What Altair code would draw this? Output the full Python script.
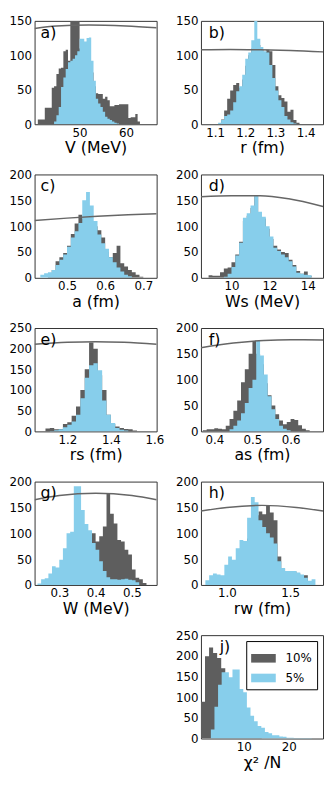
import altair as alt
import pandas as pd

DARK = "#5e5e5e"
BLUE = "#87ceeb"
CURVE = "#666666"
FONT = "DejaVu Sans"
W, H = 124, 105

# ---------------- panel a) V (MeV)
a_dark_start, a_dark_width = 41.0, 0.5
a_dark = [7, 7, 7, 24, 24, 24, 53, 55, 73, 81, 82, 106, 108, 92, 165, 175, 170, 168, 110, 100, 95, 90,
          85, 75, 55, 45, 44, 44, 37, 40, 35, 26, 26, 28, 28, 29, 29, 29, 29, 9, 10, 10, 15, 4]
a_blue_start, a_blue_width = 44.5, 0.5
a_blue = [4, 13, 25, 54, 68, 80, 90, 92, 95, 100, 106, 124, 124, 120, 125, 126, 92, 63, 37, 30, 25, 18,
          11, 8, 6, 4, 2, 1]
a_curve_x = [40.3, 45, 52, 60, 66.6]
a_curve_y = [139, 142.5, 144, 142.5, 140]

# ---------------- panel b) r (fm)
b_dark_start, b_dark_width = 1.12, 0.01
b_dark = [7, 20, 37, 49, 57, 60, 53, 65, 85, 100, 110, 120, 115, 108, 105, 108, 106, 86, 55, 42, 38, 33,
          18, 21, 6, 2]
b_blue_start, b_blue_width = 1.11, 0.01
b_blue = [2, 6, 12, 14, 20, 32, 48, 55, 72, 95, 104, 122, 160, 124, 112, 106, 104, 86, 67, 49, 35, 25,
          12, 7, 3, 1]
b_curve_x = [1.053, 1.15, 1.25, 1.35, 1.458]
b_curve_y = [108, 108.5, 108, 107, 105]

# ---------------- panel c) a (fm)
c_dark_start, c_dark_width = 0.45, 0.01
c_dark = [8, 15, 32, 40, 48, 62, 85, 105, 122, 115, 105, 100, 100, 92, 78, 50, 40, 48, 62, 28, 22, 15,
          11, 6, 2]
c_blue_start, c_blue_width = 0.43, 0.01
c_blue = [6, 9, 11, 15, 25, 35, 45, 60, 78, 90, 106, 150, 166, 140, 110, 84, 67, 56, 40, 30, 20, 12, 6, 3]
c_curve_x = [0.415, 0.5, 0.58, 0.66, 0.735]
c_curve_y = [111, 115.5, 119, 122, 124]

# ---------------- panel d) Ws (MeV)
d_dark_start, d_dark_width = 8.8, 0.2
d_dark = [5, 4, 4, 11, 18, 20, 30, 45, 70, 110, 120, 135, 158, 125, 115, 95, 75, 62, 55, 50, 48, 35,
          25, 13, 8, 12, 4]
d_blue_start, d_blue_width = 9.6, 0.2
d_blue = [2, 8, 21, 43, 68, 116, 125, 140, 160, 128, 118, 100, 80, 58, 52, 45, 40, 32, 22, 10, 8, 6, 5]
d_curve_x = [8.4, 10, 11.5, 13, 14.8]
d_curve_y = [157, 159, 159, 153, 138]

# ---------------- panel e) rs (fm)
e_dark_start, e_dark_width = 1.10, 0.02
e_dark = [7, 8, 5, 6, 18, 22, 38, 60, 100, 150, 215, 200, 136, 100, 40, 18, 12, 8, 6, 5, 2]
e_blue_start, e_blue_width = 1.12, 0.02
e_blue = [1, 3, 5, 10, 16, 24, 40, 80, 130, 160, 165, 148, 75, 40, 20, 8, 4, 2]
e_curve_x = [1.05, 1.2, 1.33, 1.46, 1.61]
e_curve_y = [211, 215.5, 217, 215.5, 211]

# ---------------- panel f) as (fm)
f_dark_start, f_dark_width = 0.37, 0.01
f_dark = [2, 4, 4, 6, 5, 4, 11, 24, 40, 60, 95, 120, 150, 175, 150, 130, 93, 70, 50, 33, 21, 14, 18,
          24, 22, 12, 5, 2]
f_blue_start, f_blue_width = 0.44, 0.01
f_blue = [4, 11, 21, 35, 55, 84, 100, 175, 147, 110, 68, 43, 24, 11, 5, 2]
f_curve_x = [0.365, 0.45, 0.53, 0.6, 0.685]
f_curve_y = [162, 171, 176, 177.5, 177]

# ---------------- panel g) W (MeV)
g_dark_start, g_dark_width = 0.30, 0.01
g_dark = [5, 10, 20, 30, 45, 55, 60, 70, 80, 100, 84, 94, 113, 176, 138, 119, 87, 84, 68, 59, 30, 14,
          11, 4]
g_blue_start, g_blue_width = 0.24, 0.01
g_blue = [3, 11, 13, 22, 36, 34, 49, 71, 100, 103, 191, 191, 145, 118, 106, 81, 68, 46, 27, 15, 11, 11,
          10, 11, 12, 10, 9, 5]
g_curve_x = [0.232, 0.3, 0.4, 0.5, 0.568]
g_curve_y = [165, 173, 177.5, 173, 165]

# ---------------- panel h) rw (fm)
h_dark_start, h_dark_width = 0.95, 0.03
h_dark = [5, 10, 20, 30, 40, 60, 65, 90, 110, 135, 142, 137, 154, 140, 125, 55, 32, 25, 25, 26, 22, 17,
          19, 5]
h_blue_start, h_blue_width = 0.83, 0.03
h_blue = [9, 19, 22, 20, 19, 39, 55, 49, 71, 87, 85, 130, 170, 160, 125, 112, 100, 92, 80, 46, 33, 27,
          27, 27, 24, 20, 14, 8, 11]
h_curve_x = [0.795, 1.0, 1.28, 1.55, 1.76]
h_curve_y = [143, 150, 154, 150, 143]

# ---------------- panel j) chi^2/N
j_dark_start, j_dark_width = 0.5, 0.9
j_dark = [89, 199, 220, 207, 195, 170, 120, 80, 50, 30, 18, 10, 6, 3, 2]
j_blue_start, j_blue_width = 2.7, 0.8
j_blue = [22, 77, 130, 160, 160, 148, 167, 167, 120, 112, 75, 55, 42, 30, 26, 16, 13, 8, 8, 5, 4, 2, 2,
          1, 1, 1, 1, 1]

SERIES = ["10%", "5%"]

PANELS = [
    dict(tag="a)", title="V (MeV)", xdom=[40.3, 66.6], xticks=[50, 60], fmt="d", ydom=[0, 150],
         dark=(a_dark_start, a_dark_width, a_dark), blue=(a_blue_start, a_blue_width, a_blue),
         curve=(a_curve_x, a_curve_y), tx=6),
    dict(tag="b)", title="r (fm)", xdom=[1.053, 1.458], xticks=[1.1, 1.2, 1.3, 1.4], fmt=".1f",
         ydom=[0, 150], dark=(b_dark_start, b_dark_width, b_dark),
         blue=(b_blue_start, b_blue_width, b_blue), curve=(b_curve_x, b_curve_y), tx=8),
    dict(tag="c)", title="a (fm)", xdom=[0.415, 0.735], xticks=[0.5, 0.6, 0.7], fmt=".1f",
         ydom=[0, 200], dark=(c_dark_start, c_dark_width, c_dark),
         blue=(c_blue_start, c_blue_width, c_blue), curve=(c_curve_x, c_curve_y), tx=6),
    dict(tag="d)", title="Ws (MeV)", xdom=[8.4, 14.8], xticks=[10, 12, 14], fmt="d", ydom=[0, 200],
         dark=(d_dark_start, d_dark_width, d_dark), blue=(d_blue_start, d_blue_width, d_blue),
         curve=(d_curve_x, d_curve_y), tx=8),
    dict(tag="e)", title="rs (fm)", xdom=[1.05, 1.61], xticks=[1.2, 1.4, 1.6], fmt=".1f",
         ydom=[0, 250], dark=(e_dark_start, e_dark_width, e_dark),
         blue=(e_blue_start, e_blue_width, e_blue), curve=(e_curve_x, e_curve_y), tx=6),
    dict(tag="f)", title="as (fm)", xdom=[0.365, 0.685], xticks=[0.4, 0.5, 0.6], fmt=".1f",
         ydom=[0, 200], dark=(f_dark_start, f_dark_width, f_dark),
         blue=(f_blue_start, f_blue_width, f_blue), curve=(f_curve_x, f_curve_y), tx=8),
    dict(tag="g)", title="W (MeV)", xdom=[0.232, 0.568], xticks=[0.3, 0.4, 0.5], fmt=".1f",
         ydom=[0, 200], dark=(g_dark_start, g_dark_width, g_dark),
         blue=(g_blue_start, g_blue_width, g_blue), curve=(g_curve_x, g_curve_y), tx=6),
    dict(tag="h)", title="rw (fm)", xdom=[0.795, 1.76], xticks=[1.0, 1.5], fmt=".1f",
         ydom=[0, 200], dark=(h_dark_start, h_dark_width, h_dark),
         blue=(h_blue_start, h_blue_width, h_blue), curve=(h_curve_x, h_curve_y), tx=8),
    None,
    dict(tag="j)", title="χ² /N", xdom=[0.5, 27.6], xticks=[10, 20], fmt="d", ydom=[0, 250],
         dark=(j_dark_start, j_dark_width, j_dark), blue=(j_blue_start, j_blue_width, j_blue),
         curve=None, tx=19, legend=True),
]


def step_df(start, width, counts, label):
    xs = [round(start + i * width, 6) for i in range(len(counts) + 1)]
    ys = list(counts) + [0]
    return pd.DataFrame({"x": xs, "y": ys, "s": label})


def make_panel(p):
    ymax = p["ydom"][1]
    yticks = list(range(0, ymax + 1, 50))
    xs = alt.Scale(domain=p["xdom"], nice=False, zero=False, clamp=True)
    ys = alt.Scale(domain=p["ydom"], nice=False, zero=True, clamp=True)
    xax = alt.Axis(values=p["xticks"], format=p["fmt"], title=p["title"])
    yax = alt.Axis(values=yticks, format="d", title=None)
    X = alt.X("x:Q", scale=xs, axis=xax)
    Y = alt.Y("y:Q", scale=ys, axis=yax, stack=None)
    dark_df = step_df(*p["dark"], SERIES[0])
    blue_df = step_df(*p["blue"], SERIES[1])
    layers = []
    if p.get("legend"):
        color = alt.Color(
            "s:N",
            scale=alt.Scale(domain=SERIES, range=[DARK, BLUE]),
            legend=alt.Legend(
                title=None, orient="top-right", offset=6, direction="vertical",
                fillColor="white", strokeColor="black", padding=5, cornerRadius=0,
                symbolType="M-1,-0.35L1,-0.35L1,0.35L-1,0.35Z", symbolSize=625,
                symbolStrokeWidth=0, symbolOpacity=1, labelFont=FONT, labelFontSize=12,
                labelColor="black", labelOffset=10, rowPadding=1,
            ),
        )
        for df in (dark_df, blue_df):
            layers.append(
                alt.Chart(df).mark_area(interpolate="step-after", clip=True, opacity=1)
                .encode(x=X, y=Y, color=color)
            )
    else:
        layers.append(alt.Chart(dark_df).mark_area(interpolate="step-after", clip=True, color=DARK)
                      .encode(x=X, y=Y))
        layers.append(alt.Chart(blue_df).mark_area(interpolate="step-after", clip=True, color=BLUE)
                      .encode(x=X, y=Y))
    if p.get("curve"):
        cdf = pd.DataFrame({"x": p["curve"][0], "y": p["curve"][1]})
        layers.append(alt.Chart(cdf).mark_line(color=CURVE, strokeWidth=1.5, interpolate="monotone",
                                               clip=True).encode(x=X, y=Y))
    tdf = pd.DataFrame({"t": [p["tag"]]})
    layers.append(alt.Chart(tdf).mark_text(align="left", baseline="alphabetic", fontSize=16, font=FONT,
                                           color="black")
                  .encode(text="t:N", x=alt.value(p["tx"]), y=alt.value(17)))
    return alt.layer(*layers).properties(width=W, height=H)


def blank():
    return alt.Chart(pd.DataFrame({"v": [0]})).mark_point(opacity=0).encode(
        x=alt.X("v:Q", axis=None), y=alt.Y("v:Q", axis=None)
    ).properties(width=W, height=H, view=alt.ViewBackground(stroke="transparent"))


charts = [make_panel(p) if p is not None else blank() for p in PANELS]

chart = alt.concat(
    *charts, columns=2, spacing=alt.RowColnumber(row=51, column=45), bounds="flush", align="all"
).resolve_scale(
    x="independent", y="independent", color="independent"
).resolve_legend(color="independent").properties(padding=0)

chart = chart.configure_view(stroke="#333333", strokeWidth=1).configure_axis(
    labelFont=FONT, titleFont=FONT, labelFontSize=12, titleFontSize=16, titleFontWeight="normal",
    labelColor="black", titleColor="black", grid=False, ticks=False, domain=False,
    labelPadding=3, titlePadding=2, labelFlush=False,
).configure_text(font=FONT)

chart.save("out.html", embed_options={"renderer": "svg", "actions": False})
